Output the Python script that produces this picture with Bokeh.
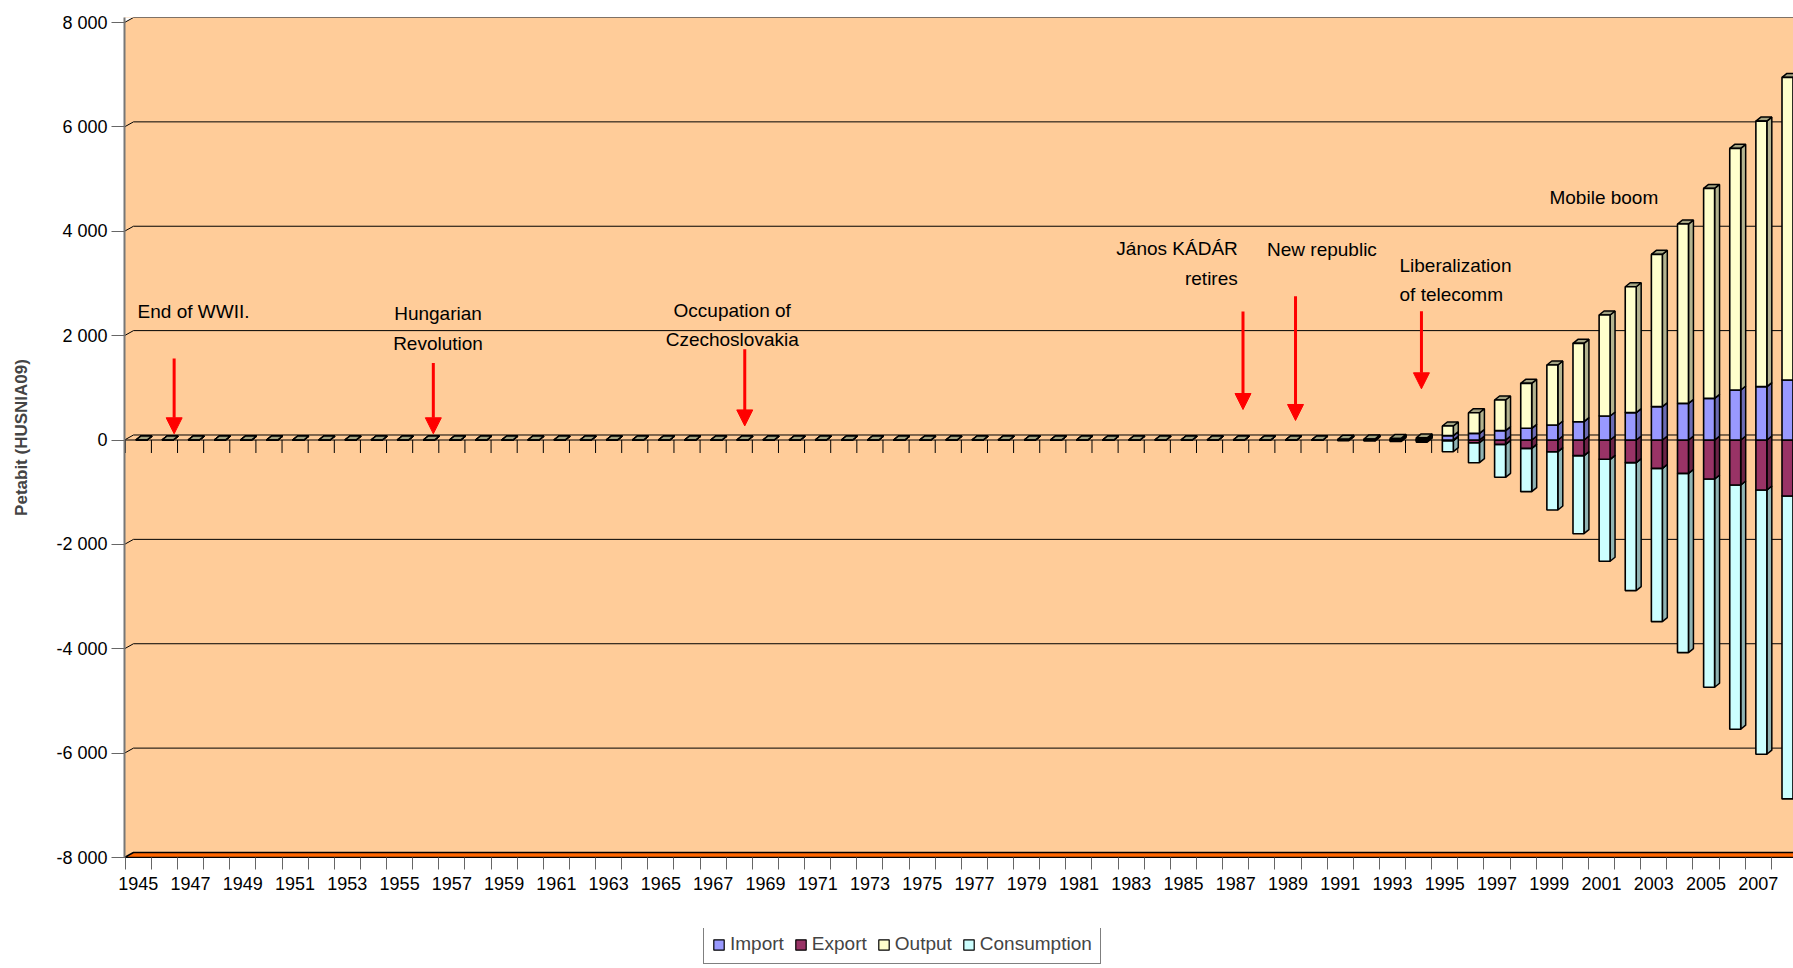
from bokeh.plotting import figure
from bokeh.layouts import column
from bokeh.models import (Range1d, FixedTicker, Legend, LegendItem, Label, Arrow,
                          NormalHead, ColumnDataSource)
from bokeh.embed import file_html
from bokeh.resources import INLINE

# ---------------- data ----------------
years = [1945, 1946, 1947, 1948, 1949, 1950, 1951, 1952, 1953, 1954, 1955, 1956,
         1957, 1958, 1959, 1960, 1961, 1962, 1963, 1964, 1965, 1966, 1967, 1968,
         1969, 1970, 1971, 1972, 1973, 1974, 1975, 1976, 1977, 1978, 1979, 1980,
         1981, 1982, 1983, 1984, 1985, 1986, 1987, 1988, 1989, 1990, 1991, 1992,
         1993, 1994, 1995, 1996, 1997, 1998, 1999, 2000, 2001, 2002, 2003, 2004,
         2005, 2006, 2007, 2008]

import_vals = [0, 0, 0, 0, 0, 0, 0, 0, 0, 0, 0, 0,
               0, 0, 0, 0, 0, 0, 0, 0, 0, 0, 0, 0,
               0, 0, 0, 0, 0, 0, 0, 0, 0, 0, 0, 0,
               0, 0, 0, 0, 0, 0, 0, 0, 0, 0, 5, 5,
               10, 10, 83, 128, 179, 224, 287, 351, 460, 524, 639, 702,
               798, 958, 1022, 1149]

export_vals = [0, 0, 0, 0, 0, 0, 0, 0, 0, 0, 0, 0,
               0, 0, 0, 0, 0, 0, 0, 0, 0, 0, 0, 0,
               0, 0, 0, 0, 0, 0, 0, 0, 0, 0, 0, 0,
               0, 0, 0, 0, 0, 0, 0, 0, 0, 0, 5, 5,
               10, 10, 15, 52, 83, 160, 224, 300, 370, 434, 543, 639,
               747, 862, 958, 1073]

output_vals = [0, 0, 0, 0, 0, 0, 0, 0, 0, 0, 0, 0,
               0, 0, 0, 0, 0, 0, 0, 0, 0, 0, 0, 0,
               0, 0, 0, 0, 0, 0, 0, 0, 0, 0, 0, 0,
               0, 0, 0, 0, 0, 0, 0, 0, 0, 0, 10, 15,
               20, 30, 185, 395, 587, 862, 1150, 1501, 1935, 2413, 2918, 3436,
               4023, 4630, 5089, 5799]

consumption_vals = [0, 0, 0, 0, 0, 0, 0, 0, 0, 0, 0, 0,
                    0, 0, 0, 0, 0, 0, 0, 0, 0, 0, 0, 0,
                    0, 0, 0, 0, 0, 0, 0, 0, 0, 0, 0, 0,
                    0, 0, 0, 0, 0, 0, 0, 0, 0, 0, 10, 15,
                    20, 30, 209, 383, 632, 830, 1117, 1495, 1954, 2452, 2937, 3435,
                    3991, 4680, 5063, 5804]

y_ticks = [-8000, -6000, -4000, -2000, 0, 2000, 4000, 6000, 8000]
y_tick_labels = ["-8 000", "-6 000", "-4 000", "-2 000", "0", "2 000", "4 000", "6 000", "8 000"]

series_names = ["Import", "Export", "Output", "Consumption"]

# ---------------- style / geometry ----------------
FONT = "Liberation Sans"
BG = "#FFCC99"
X0, X1 = -0.53, 63.35          # x range (category index units)
Y0, Y1 = -8000, 8096           # y range
WDX = 0.344                    # back-wall depth (x, category units)
GDY = 96                       # back-wall depth (y, value units)
BW = 0.42                      # bar front width
BOFF = 0.12                    # bar offset from category centre
DX = 0.19                      # bar depth x
DY = 77                        # bar depth y

colors = {
    "Import": ("#9999FF", "#6B6BB3", "#8080D0"),
    "Export": ("#993366", "#6B2447", "#7A2952"),
    "Output": ("#FFFFCC", "#B3B38F", "#A3A382"),
    "Consumption": ("#CCFFFF", "#8FB3B3", "#A3CCCC"),
}

p = figure(width=1793, height=928, x_range=Range1d(X0, X1), y_range=Range1d(Y0, Y1),
           output_backend="svg", toolbar_location=None,
           min_border_left=124, min_border_right=0, min_border_top=17, min_border_bottom=71,
           background_fill_color=BG, border_fill_color="white", outline_line_color=None)
p.xgrid.visible = False
p.ygrid.visible = False

# white corner above the wall diagonal
p.patch(x=[X0, X0, X0 + WDX], y=[y_ticks[-1], Y1, Y1], fill_color="white", line_color=None)

# back-wall gridlines with left diagonal
gx0, gy0, gx1, gy1 = [], [], [], []
for t in y_ticks[1:]:
    gx0 += [X0, X0 + WDX]
    gy0 += [t, t + GDY]
    gx1 += [X0 + WDX, X1 + 1]
    gy1 += [t + GDY, t + GDY]
p.segment(x0=gx0, y0=gy0, x1=gx1, y1=gy1, line_color="black", line_width=1)

# floor (orange) at the minimum
p.patch(x=[X0, X1 + 1, X1 + 1, X0 + WDX], y=[Y0, Y0, Y0 + GDY, Y0 + GDY],
        fill_color="#FF6600", line_color="black", line_width=1.5)

# front zero line and tick marks on the zero plane
n = len(years)
p.segment(x0=[X0], y0=[0], x1=[X1 + 1], y1=[0], line_color="black", line_width=1)
bx = [i - 0.5 for i in range(n + 1)]
p.segment(x0=bx, y0=[0] * len(bx), x1=bx, y1=[-249] * len(bx), line_color="black", line_width=1)

# ---------------- 3-D stacked bars ----------------
xc = [i + BOFF for i in range(n)]
xl = [x - BW / 2 for x in xc]
xr = [x + BW / 2 for x in xc]

imp_b = [0] * n
imp_t = list(import_vals)
out_b = list(import_vals)
out_t = [a + b for a, b in zip(import_vals, output_vals)]
exp_t = [0] * n
exp_b = [-e for e in export_vals]
con_t = [-e for e in export_vals]
con_b = [-e - c for e, c in zip(export_vals, consumption_vals)]

segments = [("Consumption", con_b, con_t), ("Export", exp_b, exp_t),
            ("Import", imp_b, imp_t), ("Output", out_b, out_t)]

for name, bots, tops in segments:
    front, side, topc = colors[name]
    sxs, sys_, txs, tys = [], [], [], []
    for i in range(n):
        b, t = bots[i], tops[i]
        sxs.append([xr[i], xr[i] + DX, xr[i] + DX, xr[i]])
        sys_.append([b, b + DY, t + DY, t])
        txs.append([xl[i], xl[i] + DX, xr[i] + DX, xr[i]])
        tys.append([t, t + DY, t + DY, t])
    p.patches(xs=sxs, ys=sys_, fill_color=side, line_color="black", line_width=1.5)
    p.patches(xs=txs, ys=tys, fill_color=topc, line_color="black", line_width=1.5)
    src = ColumnDataSource(dict(left=xl, right=xr, bottom=bots, top=tops))
    p.quad(left="left", right="right", bottom="bottom", top="top", source=src,
           fill_color=front, line_color="black", line_width=1.6)

# ---------------- axes ----------------
p.yaxis.ticker = FixedTicker(ticks=y_ticks)
p.yaxis.major_label_overrides = {t: l for t, l in zip(y_ticks, y_tick_labels)}
p.yaxis.major_tick_out = 13
p.yaxis.major_tick_in = 0
p.yaxis.minor_tick_line_color = None
p.yaxis.major_tick_line_color = "#666666"
p.yaxis.axis_line_color = "#777777"
p.yaxis.axis_line_width = 2
p.yaxis.major_label_standoff = 4
p.yaxis.major_label_text_font = FONT
p.yaxis.major_label_text_font_size = "18px"
p.yaxis.major_label_text_color = "black"
p.yaxis.axis_label = "Petabit (HUSNIA09)"
p.yaxis.axis_label_text_font = FONT
p.yaxis.axis_label_text_font_style = "bold"
p.yaxis.axis_label_text_font_size = "17px"
p.yaxis.axis_label_standoff = 22

label_idx = list(range(0, n, 2))
p.xaxis.ticker = FixedTicker(ticks=label_idx, minor_ticks=bx)
p.xaxis.major_label_overrides = {i: str(years[i]) for i in label_idx}
p.xaxis.major_tick_out = 12
p.xaxis.major_tick_in = 0
p.xaxis.major_tick_line_color = None
p.xaxis.minor_tick_out = 12
p.xaxis.minor_tick_in = 0
p.xaxis.minor_tick_line_color = "#666666"
p.xaxis.axis_line_color = "black"
p.xaxis.major_label_standoff = 7
p.xaxis.major_label_text_font = FONT
p.xaxis.major_label_text_font_size = "18px"
p.xaxis.major_label_text_color = "black"

# ---------------- annotations ----------------
def note(x, y, text, align="left"):
    p.add_layout(Label(x=x, y=y, text=text, text_font=FONT, text_font_size="19px",
                       text_align=align, text_baseline="middle", text_line_height=1.4,
                       text_color="black"))

def arrow(x, y1, y2):
    p.add_layout(Arrow(x_start=x, y_start=y1, x_end=x, y_end=y2, line_color="#FF0000",
                       line_width=3,
                       end=NormalHead(size=16, fill_color="#FF0000", line_color="#FF0000")))

note(-0.03, 2462, "End of WWII.")
arrow(1.37, 1562, 119)
note(11.47, 2136, "Hungarian\nRevolution", "center")
arrow(11.29, 1475, 119)
note(22.73, 2200, "Occupation of\nCzechoslovakia", "center")
arrow(23.21, 1738, 270)
note(42.08, 3382, "János KÁDÁR\nretires", "right")
arrow(42.28, 2462, 584)
note(43.20, 3650, "New republic")
arrow(44.29, 2755, 374)
note(48.27, 3066, "Liberalization\nof telecomm")
arrow(49.11, 2468, 981)
note(54.01, 4652, "Mobile boom")

# ---------------- legend (separate strip below the chart) ----------------
p2 = figure(width=1793, height=40, x_range=Range1d(0, 1), y_range=Range1d(0, 1),
            x_axis_location=None, y_axis_location=None, output_backend="svg",
            toolbar_location=None, min_border=0, outline_line_color=None,
            background_fill_color="white", border_fill_color="white")
p2.grid.visible = False
items = []
for nm in series_names:
    r = p2.quad(left=[5], right=[6], bottom=[5], top=[6], fill_color=colors[nm][0],
                line_color="black", line_width=1.2)
    items.append(LegendItem(label=nm, renderers=[r]))
legend = Legend(items=items, orientation="horizontal", location=(579, 4),
                label_text_font=FONT, label_text_font_size="19px",
                glyph_width=13, glyph_height=13, label_standoff=5, spacing=10,
                padding=8, margin=0, border_line_color="black", border_line_width=1,
                background_fill_color="white", background_fill_alpha=1)
p2.add_layout(legend, "center")

open("out.html", "w").write(file_html(column(p, p2, spacing=0), INLINE))
